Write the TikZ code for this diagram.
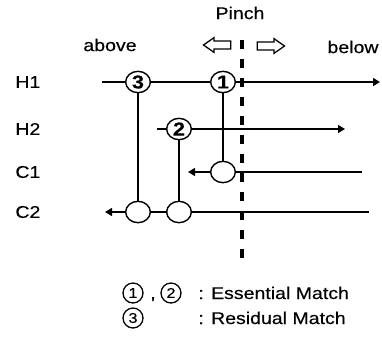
\documentclass[tikz,border=0pt]{standalone}
\usepackage{fontspec}
\setmainfont{Liberation Sans}[FakeStretch=1.15,FakeBold=0.4]
\usepackage{tikz}
\usetikzlibrary{positioning,arrows.meta,shapes.geometric,shapes.arrows}
\tikzset{
    lbl/.style={font=\fontsize{14.5}{17}\selectfont,inner sep=1pt},
    mtch/.style={ellipse,draw,line width=1.2pt,fill=white,minimum width=7.4mm,minimum height=6.4mm,inner sep=0pt,font=\fontsize{16}{16}\selectfont\bfseries},
    keycirc/.style={circle,draw,line width=1.1pt,minimum size=6mm,inner sep=0pt,font=\fontsize{12}{12}\selectfont},
    stream/.style={line width=1.2pt},
    arr/.style={-{Triangle[length=2.1mm,width=2.4mm]},line width=1.2pt},
    hollow/.style={single arrow,draw,line width=1.1pt,minimum height=8.2mm,single arrow head extend=1mm,inner xsep=0pt,inner ysep=1mm,single arrow tip angle=70},
    pinchline/.style={line width=2.8pt,dash pattern=on 2.7mm off 3mm},
}
\begin{document}
\begin{tikzpicture}[x=0.3mm,y=-0.3mm]
\useasboundingbox (0,0) rectangle (382,351);
% heading
\node[lbl] (pinch) at (240,13) {Pinch};
\node[lbl] (above) at (110,45) {above};
\node[lbl] (below) at (353,47) {below};
\node[hollow,shape border rotate=180] (toabove) at (220,45) {};
\node[hollow] (tobelow) at (268,46) {};
% stream names
\node[lbl,anchor=west] (h1) at (14,82) {H1};
\node[lbl,anchor=west] (h2) at (14,129) {H2};
\node[lbl,anchor=west] (c1) at (14,172) {C1};
\node[lbl,anchor=west] (c2) at (14,212) {C2};
% matches
\node[mtch] (m3) at (138,82) {3};
\node[mtch] (m1) at (223,82) {1};
\node[mtch] (m2) at (179,129) {2};
\node[mtch] (c1x) at (223,172) {};
\node[mtch] (c2a) at (138,212) {};
\node[mtch] (c2b) at (179,212) {};
% stream ends
\coordinate (h1s) at (102,82);
\coordinate (h1e) at (380,82);
\coordinate (h2s) at (157,129);
\coordinate (h2e) at (345,129);
\coordinate (c1s) at (362,172);
\coordinate (c1e) at (188,172);
\coordinate (c2s) at (369,212);
\coordinate (c2e) at (105,212);
\draw[stream] (h1s) -- (m3) -- (m1);
\draw[arr] (m1) -- (h1e);
\draw[stream] (h2s) -- (m2);
\draw[arr] (m2) -- (h2e);
\draw[stream] (c1s) -- (c1x);
\draw[arr] (c1x) -- (c1e);
\draw[stream] (c2s) -- (c2b) -- (c2a);
\draw[arr] (c2a) -- (c2e);
\draw[stream] (m3) -- (c2a);
\draw[stream] (m2) -- (c2b);
\draw[stream] (m1) -- (c1x);
% pinch
\coordinate (ptop) at (242,40);
\coordinate (pbot) at (242,263);
\draw[pinchline] (ptop) -- (pbot);
% key
\node[keycirc] (k1) at (133,293) {1};
\node[lbl,anchor=base] (sep) at (153,299) {,};
\node[keycirc] (k2) at (171,293) {2};
\node[lbl,anchor=base west] (ess) at (197,299) {: Essential Match};
\node[keycirc] (k3) at (133,318) {3};
\node[lbl,anchor=base west] (res) at (197,324) {: Residual Match};
\end{tikzpicture}
\end{document}
